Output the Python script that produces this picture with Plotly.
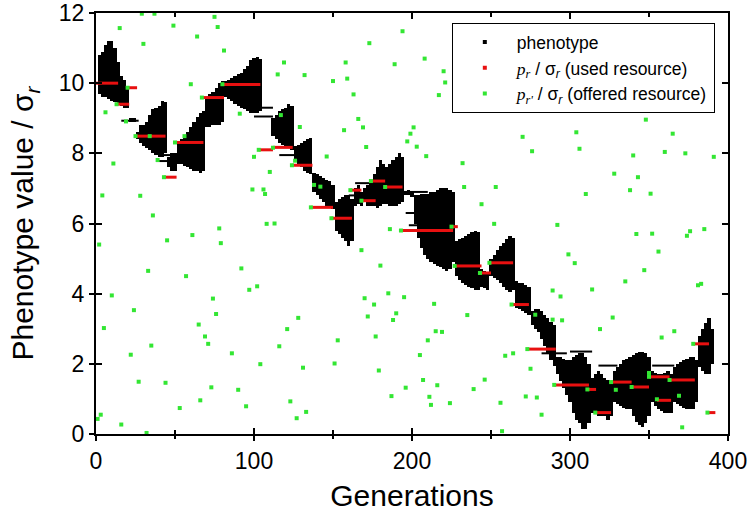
import plotly.graph_objects as go

# ---------------- data ----------------
# phenotype spread per generation (min / max of phenotype value / sigma_r)
pheno_gen = [2, 4, 6, 8, 10, 12, 14, 16, 18, 20, 22, 24,
             26, 28, 30, 32, 34, 36, 38, 40, 42, 44, 46, 48, 50,
             52, 54, 56, 58, 60, 62, 64, 66, 68,
             70, 72, 74, 76, 78, 80,
             82, 84, 86, 88, 90, 92, 94, 96, 98, 100, 102, 104,
             112, 114, 116, 118, 120, 122, 124,
             126, 128, 130, 132, 134, 136,
             138, 140, 142, 144, 146, 148, 150,
             152, 154, 156, 158, 160, 162,
             164, 166, 168, 170, 172, 174, 176, 178, 180, 182, 184, 186, 188, 190, 192, 194, 196, 198,
             200, 202, 204, 206, 208, 210, 212, 214, 216, 218, 220, 222, 224, 226,
             228, 230, 232, 234, 236, 238, 240, 242,
             244, 246, 248,
             250, 252, 254, 256, 258, 260, 262, 264,
             266, 268, 270, 272, 274,
             276, 278, 280, 282, 284, 286, 288, 290,
             292, 294, 296, 298, 300, 302, 304, 306, 308, 310, 312,
             314, 316, 318, 320, 322, 324, 326,
             328, 330, 332, 334, 336, 338, 340, 342, 344, 346, 348, 350,
             352, 354, 356, 358, 360, 362, 364,
             366, 368, 370, 372, 374, 376, 378, 380,
             382, 384, 386, 388, 390]
pheno_lo = [9.7, 9.6, 9.6, 9.55, 9.5, 9.45, 9.4, 9.35, 9.3, 9.3, 8.9, 8.9,
            8.4, 8.3, 8.2, 8.15, 8.1, 8.0, 7.95, 7.9, 7.9, 8.0, 7.6, 7.5, 7.5,
            7.7, 7.7, 7.65, 7.6, 7.55, 7.5, 7.5, 7.45, 7.5,
            8.75, 8.75, 8.8, 8.8, 8.8, 8.9,
            9.6, 9.55, 9.5, 9.4, 9.35, 9.3, 9.25, 9.2, 9.15, 9.15, 9.15, 9.2,
            8.5, 8.4, 8.3, 8.25, 8.2, 8.15, 8.1,
            7.8, 7.7, 7.6, 7.5, 7.45, 7.4,
            6.9, 6.8, 6.7, 6.6, 6.5, 6.45, 6.4,
            5.8, 5.7, 5.6, 5.5, 5.35, 5.5,
            6.5, 6.55, 6.5, 6.6, 6.5, 6.5, 6.5, 6.45, 6.5, 6.55, 6.55, 6.5, 6.5, 6.5, 6.55, 6.6, 6.8, 6.8,
            6.75, 6.0, 5.6, 5.3, 5.1, 5.0, 4.9, 4.85, 4.8, 4.75, 4.7, 4.65, 4.7, 4.9,
            4.5, 4.4, 4.3, 4.25, 4.2, 4.15, 4.1, 4.1,
            4.2, 4.15, 4.1,
            4.5, 4.45, 4.4, 4.3, 4.2, 4.1, 4.05, 4.1,
            3.6, 3.55, 3.5, 3.45, 3.4,
            3.1, 3.0, 2.9, 2.7, 2.5, 2.3, 2.1, 1.95,
            1.7, 1.5, 1.3, 1.1, 0.9, 0.6, 0.4, 0.3, 0.15, 0.15, 0.3,
            0.6, 0.6, 0.5, 0.5, 0.5, 0.4, 0.5,
            0.9, 0.85, 0.8, 0.75, 0.7, 0.7, 0.5, 0.35, 0.25, 0.2, 0.3, 0.5,
            0.9, 0.8, 0.7, 0.65, 0.6, 0.6, 0.6,
            0.9, 0.85, 0.8, 0.75, 0.7, 0.7, 0.7, 0.9,
            1.9, 1.8, 1.7, 1.7, 2.0]
pheno_hi = [10.8, 10.9, 11.1, 11.2, 11.2, 11.0, 10.6, 10.2, 10.1, 9.9, 9.0, 9.0,
            8.6, 8.8, 8.8, 8.9, 9.1, 9.25, 9.3, 9.35, 9.5, 9.45, 7.9, 8.0, 8.0,
            8.3, 8.4, 8.5, 8.6, 8.75, 8.9, 9.05, 9.15, 9.2,
            9.6, 9.7, 9.75, 9.85, 10.0, 10.05,
            10.05, 10.1, 10.15, 10.2, 10.25, 10.3, 10.4, 10.5, 10.65, 10.72, 10.75, 10.7,
            9.0, 9.1, 9.2, 9.25, 9.3, 9.4, 9.35,
            8.2, 8.25, 8.3, 8.35, 8.4, 8.45,
            7.45, 7.4, 7.35, 7.3, 7.25, 7.2, 7.1,
            6.6, 6.7, 6.75, 6.8, 6.8, 6.7,
            7.0, 7.1, 6.9, 7.0, 7.1, 7.2, 7.4, 7.6, 7.8, 7.7, 7.6, 7.7, 7.8, 7.9, 8.0, 7.9, 6.9, 6.95,
            6.9, 6.8, 6.8, 6.85, 6.85, 6.85, 6.9, 6.9, 6.95, 7.0, 7.0, 7.0, 6.95, 6.9,
            5.5, 5.55, 5.6, 5.65, 5.7, 5.75, 5.8, 5.75,
            4.7, 4.65, 4.6,
            5.0, 5.1, 5.25, 5.35, 5.45, 5.55, 5.65, 5.6,
            4.35, 4.3, 4.3, 4.25, 4.2,
            3.5, 3.55, 3.55, 3.5, 3.4, 3.3, 3.2, 3.1,
            2.2, 2.2, 2.15, 2.1, 2.1, 2.2, 2.25, 2.3, 2.3, 2.2, 2.0,
            1.6, 1.7, 1.8, 1.7, 1.6, 1.55, 1.5,
            1.8, 1.9, 2.0, 2.1, 2.15, 2.2, 2.25, 2.3, 2.35, 2.35, 2.3, 2.2,
            1.8, 1.75, 1.7, 1.7, 1.75, 1.8, 1.7,
            1.9, 2.0, 2.05, 2.1, 2.15, 2.2, 2.2, 2.1,
            2.8, 3.0, 3.15, 3.3, 3.0]

# stray horizontal phenotype streaks: start generation, end generation, value
streak_start = [16, 38, 42, 100, 104, 116, 160, 164, 192, 196, 198, 282, 300, 318, 352, 374]
streak_end = [27, 50, 52, 112, 112, 128, 172, 176, 210, 206, 206, 298, 314, 330, 366, 384]
streak_val = [8.93, 7.78, 7.95, 9.05, 9.3, 7.95, 6.8, 7.15, 6.9, 6.3, 5.95, 2.3, 2.35, 1.95, 1.95, 1.95]

# used resource: start generation, end generation, value
red_start = [0, 20, 13, 25, 50, 43, 67, 80, 103, 112, 124, 136, 149, 161, 168, 174, 183, 193,
             225, 227, 243, 249, 263, 273, 290, 311, 316, 326, 339, 350, 355, 363, 378, 387]
red_end = [14, 26, 21, 44, 68, 51, 81, 104, 112, 124.5, 137, 150, 162, 168, 177, 183, 194, 226,
           229, 244, 250, 264, 274, 291, 312, 316.5, 326, 339, 350, 363, 364, 379, 388, 392]
red_val = [10.0, 9.87, 9.4, 8.49, 8.31, 7.32, 9.59, 9.96, 8.1, 8.17, 7.66, 6.46, 6.15, 6.95, 6.65, 7.21, 7.04, 5.8,
           5.91, 4.79, 4.59, 4.88, 3.69, 2.42, 1.4, 1.27, 0.61, 1.48, 1.34, 1.63, 0.96, 1.54, 2.57, 0.61]

# offered resources
green_gen = [29, 37, 75, 15, 49, 77, 64, 30, 81, 119, 158, 115, 132, 150, 159, 189, 173, 194, 163, 60,
             20, 13, 6, 19, 56, 25, 34, 50, 67, 80, 91, 39, 11, 43, 117, 129, 103, 112, 100, 126,
             124, 146, 157, 166, 169, 171, 199, 197, 110, 138, 142, 99, 106, 107, 136, 149, 161, 168, 174, 183,
             193, 186, 4, 28, 36, 2, 45, 61, 78, 79, 108, 113, 168, 180, 92, 33, 57, 97, 102, 10,
             74, 170, 185, 195, 176, 24, 76, 128, 172, 190, 188, 5, 65, 121, 69, 71, 35, 116, 153, 177,
             22, 86, 104, 151, 131, 179, 27, 44, 73, 90, 196, 187, 66, 123, 95, 53, 133, 127, 3, 1,
             16, 32,
             208, 220, 221, 217, 201, 203, 209, 232, 270, 276, 304, 306, 348, 365, 360, 373, 391, 340, 328, 343,
             338, 351, 310, 233, 253, 244, 252, 292, 342, 352, 374, 376, 385, 356, 299, 303, 347, 335, 381, 383,
             314, 289, 294, 278, 289, 295, 327, 319, 366, 358, 214, 235, 215, 219, 210, 205, 259, 264, 275, 207,
             216, 239, 246, 211, 212, 224, 256, 272, 279, 282, 257, 371, 329, 355, 339, 350, 350, 369, 311, 243,
             249, 227, 225, 263, 273, 290, 316, 326, 363, 378, 387]
green_val = [11.98, 11.98, 11.89, 11.57, 11.64, 11.6, 11.33, 11.12, 10.93, 10.59, 10.59, 10.25, 10.23, 10.06, 10.13, 10.54, 11.14, 11.48, 9.68, 9.97,
             9.87, 9.4, 9.17, 8.91, 8.49, 8.49, 8.49, 8.31, 9.59, 9.97, 9.13, 7.81, 7.71, 7.32, 9.09, 8.75, 8.1, 8.16, 7.9, 7.79,
             7.66, 7.91, 8.66, 8.98, 8.74, 8.18, 8.56, 8.34, 7.47, 7.1, 7.05, 6.97, 6.97, 6.84, 6.46, 6.15, 6.95, 6.65, 7.21, 7.04,
             5.8, 5.84, 6.8, 6.79, 6.23, 5.4, 5.52, 5.67, 5.86, 5.44, 5.99, 6.0, 5.24, 4.8, 4.72, 4.65, 4.5, 4.11, 4.21, 3.95,
             3.86, 3.87, 4.01, 3.9, 3.69, 3.53, 3.42, 3.31, 3.35, 3.44, 3.25, 3.02, 3.12, 2.99, 2.78, 2.57, 2.52, 2.5, 2.67, 2.78,
             2.26, 2.3, 1.99, 2.01, 1.89, 1.81, 1.49, 1.46, 1.33, 1.26, 1.32, 1.08, 0.96, 0.93, 0.79, 0.74, 0.63, 0.45, 0.55, 0.43,
             0.27, 0.03,
             10.7, 10.34, 10.02, 9.66, 8.74, 8.19, 7.92, 7.72, 8.47, 8.06, 8.6, 8.13, 8.96, 8.56, 8.04, 8.0, 7.9, 7.94, 7.42, 7.32,
             6.95, 6.85, 6.84, 7.04, 7.04, 6.55, 5.99, 5.96, 5.7, 5.71, 5.65, 5.78, 5.84, 5.2, 5.12, 4.87, 4.67, 4.35, 4.24, 4.28,
             4.12, 4.09, 3.92, 3.4, 3.26, 3.24, 3.32, 2.99, 2.93, 2.75, 3.71, 3.39, 2.93, 2.91, 2.67, 2.25, 2.23, 2.3, 1.86, 1.54,
             1.39, 1.28, 1.55, 1.06, 0.83, 0.88, 0.89, 1.07, 1.04, 0.55, 0.08, 0.19, 1.26, 0.99, 1.34, 1.74, 1.63, 1.09, 1.27, 4.59,
             4.88, 4.79, 5.91, 3.69, 2.42, 1.4, 0.61, 1.48, 1.54, 2.57, 0.61]

x_ticks = [0, 100, 200, 300, 400]
y_ticks = [0, 2, 4, 6, 8, 10, 12]

# ---------------- figure ----------------
FONT = "Arial, 'Liberation Sans', sans-serif"
SERIF = "'Times New Roman', 'Liberation Serif', serif"
BLACK = "#000000"
RED = "#e81010"
GREEN = "#33e633"

fig = go.Figure()

# phenotype cloud as floating bars
fig.add_trace(go.Bar(
    x=pheno_gen,
    y=[h - l for h, l in zip(pheno_hi, pheno_lo)],
    base=pheno_lo,
    width=2,
    marker=dict(color=BLACK, line=dict(width=0)),
    showlegend=False, hoverinfo="skip",
))

# phenotype streaks
sx, sy = [], []
for s, e, v in zip(streak_start, streak_end, streak_val):
    sx += [s, e, None]
    sy += [v, v, None]
fig.add_trace(go.Scatter(x=sx, y=sy, mode="lines",
                         line=dict(color=BLACK, width=2),
                         showlegend=False, hoverinfo="skip"))

# used resource segments
rx, ry = [], []
for s, e, v in zip(red_start, red_end, red_val):
    rx += [s, e, None]
    ry += [v, v, None]
fig.add_trace(go.Scatter(x=rx, y=ry, mode="lines",
                         line=dict(color=RED, width=3),
                         showlegend=False, hoverinfo="skip"))

# offered resources
fig.add_trace(go.Scatter(x=green_gen, y=green_val, mode="markers",
                         marker=dict(symbol="square", size=4, color=GREEN),
                         showlegend=False, hoverinfo="skip"))

# legend entries
legend_names = [
    "phenotype",
    "<span style=\"font-family:" + SERIF + "\"><i>p</i><sub><i>r</i></sub></span> / σ<sub><i>r</i></sub> (used resource)",
    "<span style=\"font-family:" + SERIF + "\"><i>p</i><sub><i>r'</i></sub></span> / σ<sub><i>r</i></sub> (offered resource)",
]
for name, col in zip(legend_names, [BLACK, RED, GREEN]):
    fig.add_trace(go.Scatter(x=[None], y=[None], mode="markers", name=name,
                             marker=dict(symbol="square", size=4, color=col)))

# helper trace for the inside-tick overlay axes
fig.add_trace(go.Scatter(x=[None], y=[None], xaxis="x2", yaxis="y2",
                         showlegend=False, hoverinfo="skip"))

tickfont = dict(family=FONT, size=23, color=BLACK)

fig.update_layout(
    width=750, height=512,
    margin=dict(l=96, r=22, t=13, b=78),
    paper_bgcolor="white", plot_bgcolor="white",
    barmode="overlay",
    bargap=0,
    font=dict(family=FONT, color=BLACK),
    showlegend=True,
    legend=dict(
        x=0.563, y=0.976, xanchor="left", yanchor="top",
        bgcolor="white", bordercolor=BLACK, borderwidth=1,
        font=dict(family=FONT, size=17.5, color=BLACK),
        itemwidth=54, traceorder="normal",
    ),
    xaxis=dict(
        range=[0, 400], tickvals=x_ticks, ticktext=[str(t) for t in x_ticks],
        automargin=False, ticklabeloverflow="allow",
        showgrid=False, zeroline=False,
        showline=True, linecolor=BLACK, linewidth=2, mirror=True,
        ticks="outside", ticklen=5, tickwidth=2, tickcolor=BLACK,
        minor=dict(dtick=50, tick0=0, ticks="outside", ticklen=3, tickwidth=1.5, tickcolor=BLACK),
        tickfont=tickfont,
        title=dict(text="Generations", font=dict(family=FONT, size=30, color=BLACK), standoff=12),
    ),
    yaxis=dict(
        range=[0, 12], tickvals=y_ticks, ticktext=[str(t) for t in y_ticks],
        automargin=False, ticklabeloverflow="allow",
        showgrid=False, zeroline=False,
        showline=True, linecolor=BLACK, linewidth=2, mirror=True,
        ticks="outside", ticklen=5, tickwidth=2, tickcolor=BLACK,
        tickfont=tickfont,
        title=dict(text="Phenotype value / σ<sub><i>r</i></sub>",
                   font=dict(family=FONT, size=30, color=BLACK), standoff=16),
    ),
    xaxis2=dict(
        range=[0, 400], overlaying="x", side="bottom", anchor="y2",
        automargin=False,
        tickvals=x_ticks, showticklabels=False, showgrid=False, zeroline=False,
        showline=False, mirror="ticks",
        ticks="inside", ticklen=6, tickwidth=2, tickcolor=BLACK,
        minor=dict(dtick=50, tick0=0, ticks="inside", ticklen=4, tickwidth=1.5, tickcolor=BLACK),
    ),
    yaxis2=dict(
        range=[0, 12], overlaying="y", side="left", anchor="x2",
        automargin=False,
        tickvals=y_ticks, showticklabels=False, showgrid=False, zeroline=False,
        showline=False, mirror="ticks",
        ticks="inside", ticklen=6, tickwidth=2, tickcolor=BLACK,
    ),
)

# remove the default page margin so the 750x512 figure fills the window exactly
fig.write_html("out.html",
               config={"displayModeBar": False, "staticPlot": True},
               post_script="document.body.style.margin='0';")
